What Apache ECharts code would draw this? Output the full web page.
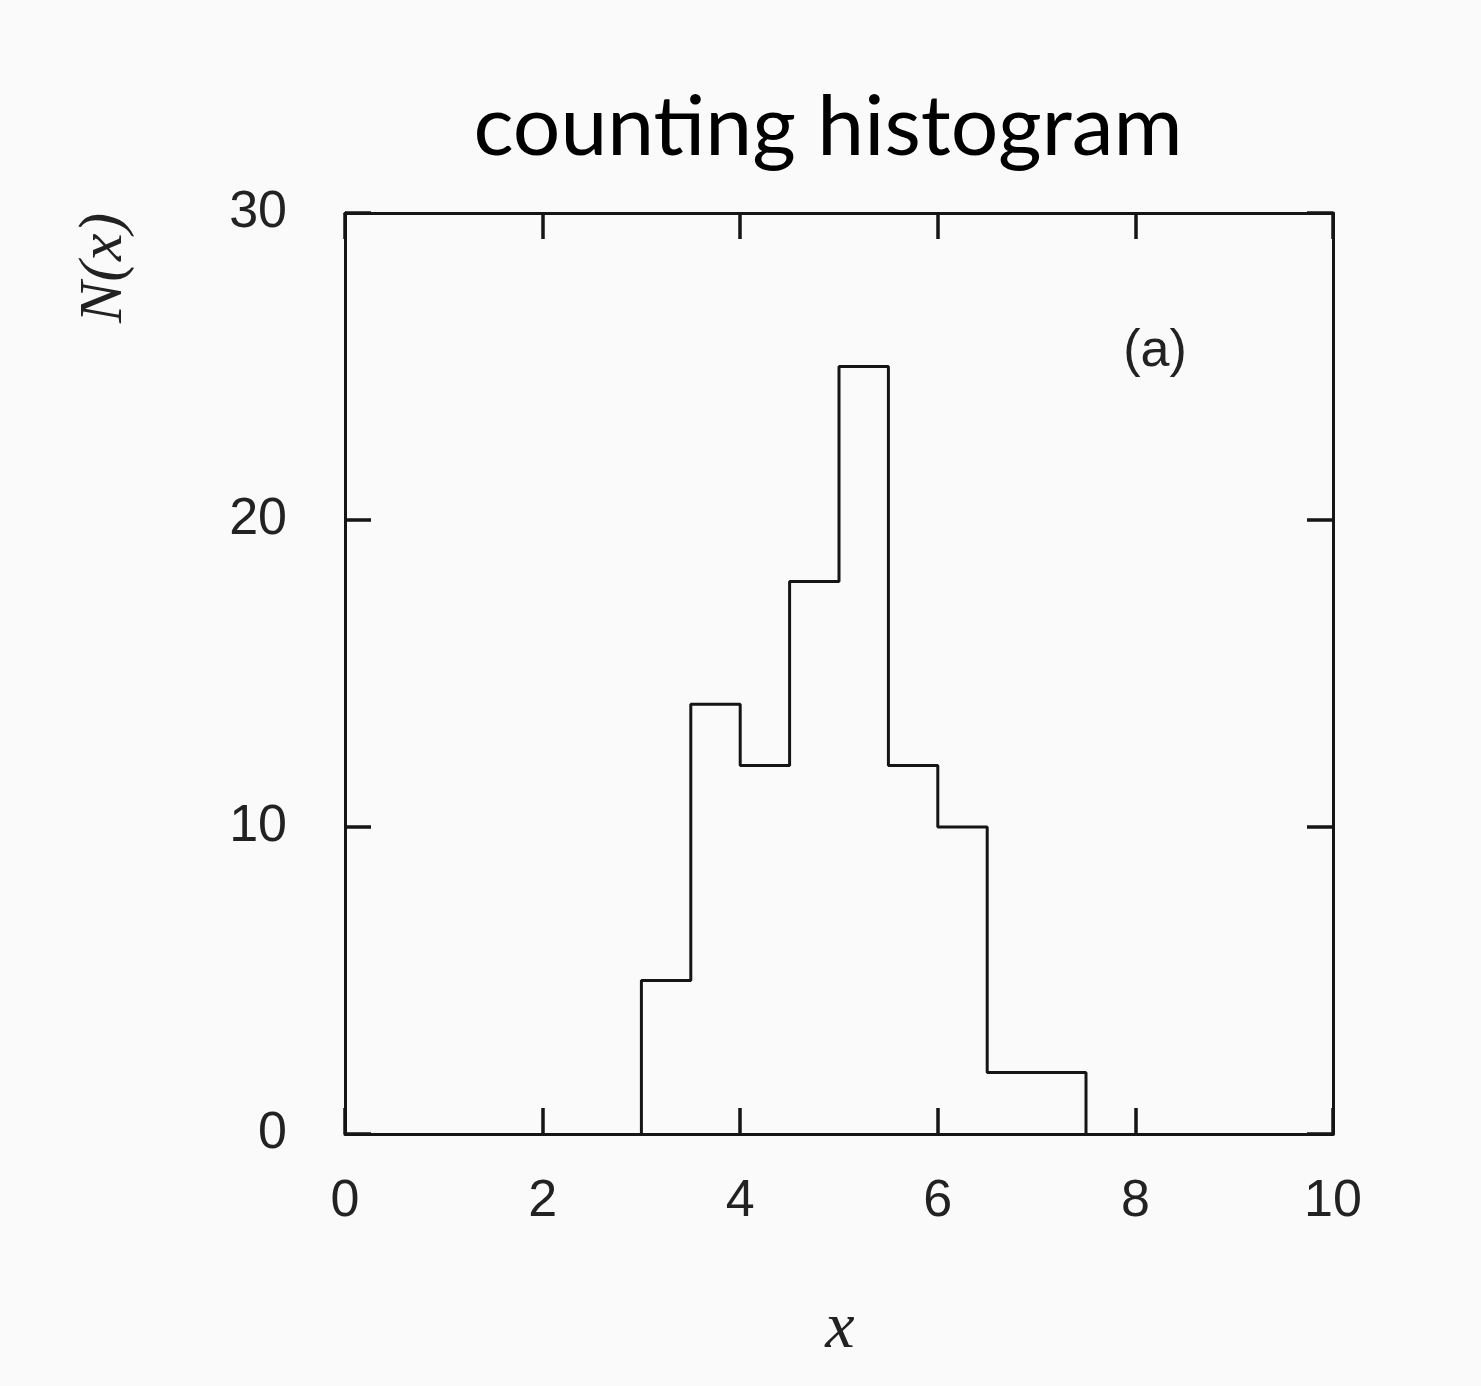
<!DOCTYPE html>
<html><head><meta charset="utf-8">
<script src="https://cdn.jsdelivr.net/npm/echarts@6/dist/echarts.min.js"></script>
<style>html,body{margin:0;padding:0;background:#fafafa;}#c{width:1481px;height:1386px;}</style>
</head><body><div id="c"></div>
<script>
const binEdges = [3, 3.5, 4, 4.5, 5, 5.5, 6, 6.5, 7, 7.5];
const counts = [5, 14, 12, 18, 25, 12, 10, 2, 2];
const xTicks = [0, 2, 4, 6, 8, 10];
const yTicks = [0, 10, 20, 30];

const outline = [[binEdges[0], 0]];
for (let i = 0; i < counts.length; i++) {
  outline.push([binEdges[i], counts[i]]);
  outline.push([binEdges[i + 1], counts[i]]);
}
outline.push([binEdges[binEdges.length - 1], 0]);

const lineC = '#151515';
const labelFont = {fontFamily: 'Liberation Sans', fontSize: 52, color: '#222'};
function xAx(pos, show) {
  return {type: 'value', position: pos, min: 0, max: 10, interval: 2,
    axisLine: {show: true, onZero: false, lineStyle: {color: lineC, width: 3}},
    axisTick: {show: true, inside: true, length: 26, lineStyle: {color: lineC, width: 3.5}},
    axisLabel: Object.assign({show: show, margin: 42}, labelFont),
    splitLine: {show: false}};
}
function yAx(pos, show) {
  return {type: 'value', position: pos, min: 0, max: 30, interval: 10,
    axisLine: {show: true, onZero: false, lineStyle: {color: lineC, width: 3}},
    axisTick: {show: true, inside: true, length: 26, lineStyle: {color: lineC, width: 3.5}},
    axisLabel: Object.assign({show: show, margin: 58, verticalAlign: 'middle', padding: [6, 0, 0, 0]}, labelFont),
    splitLine: {show: false}};
}
const chart = echarts.init(document.getElementById('c'));
chart.setOption({
  backgroundColor: '#fafafa',
  animation: false,
  grid: {left: 345, right: 148, top: 213, bottom: 252},
  xAxis: [xAx('bottom', true), xAx('top', false)],
  yAxis: [yAx('left', true), yAx('right', false)],
  series: [{
    type: 'line', data: outline, symbol: 'none', xAxisIndex: 0, yAxisIndex: 0,
    lineStyle: {color: lineC, width: 3}
  }],
  graphic: [
    {type: 'text', x: 828, y: 128, style: {text: 'counting histogram', fontFamily: 'Lato', fontSize: 84, fill: '#000', textAlign: 'center', textVerticalAlign: 'middle'}},
    {type: 'text', x: 1155, y: 352, style: {text: '(a)', fontFamily: 'Liberation Sans', fontSize: 52, fill: '#222', textAlign: 'center', textVerticalAlign: 'middle'}},
    {type: 'text', x: 840, y: 1330, style: {text: 'x', fontFamily: 'Liberation Serif', fontStyle: 'italic', fontSize: 66, fill: '#222', textAlign: 'center', textVerticalAlign: 'middle'}},
    {type: 'text', x: 105, y: 268, rotation: Math.PI / 2, style: {text: 'N(x)', fontFamily: 'Liberation Serif', fontStyle: 'italic', fontSize: 62, fill: '#222', textAlign: 'center', textVerticalAlign: 'middle'}}
  ]
});
</script></body></html>
